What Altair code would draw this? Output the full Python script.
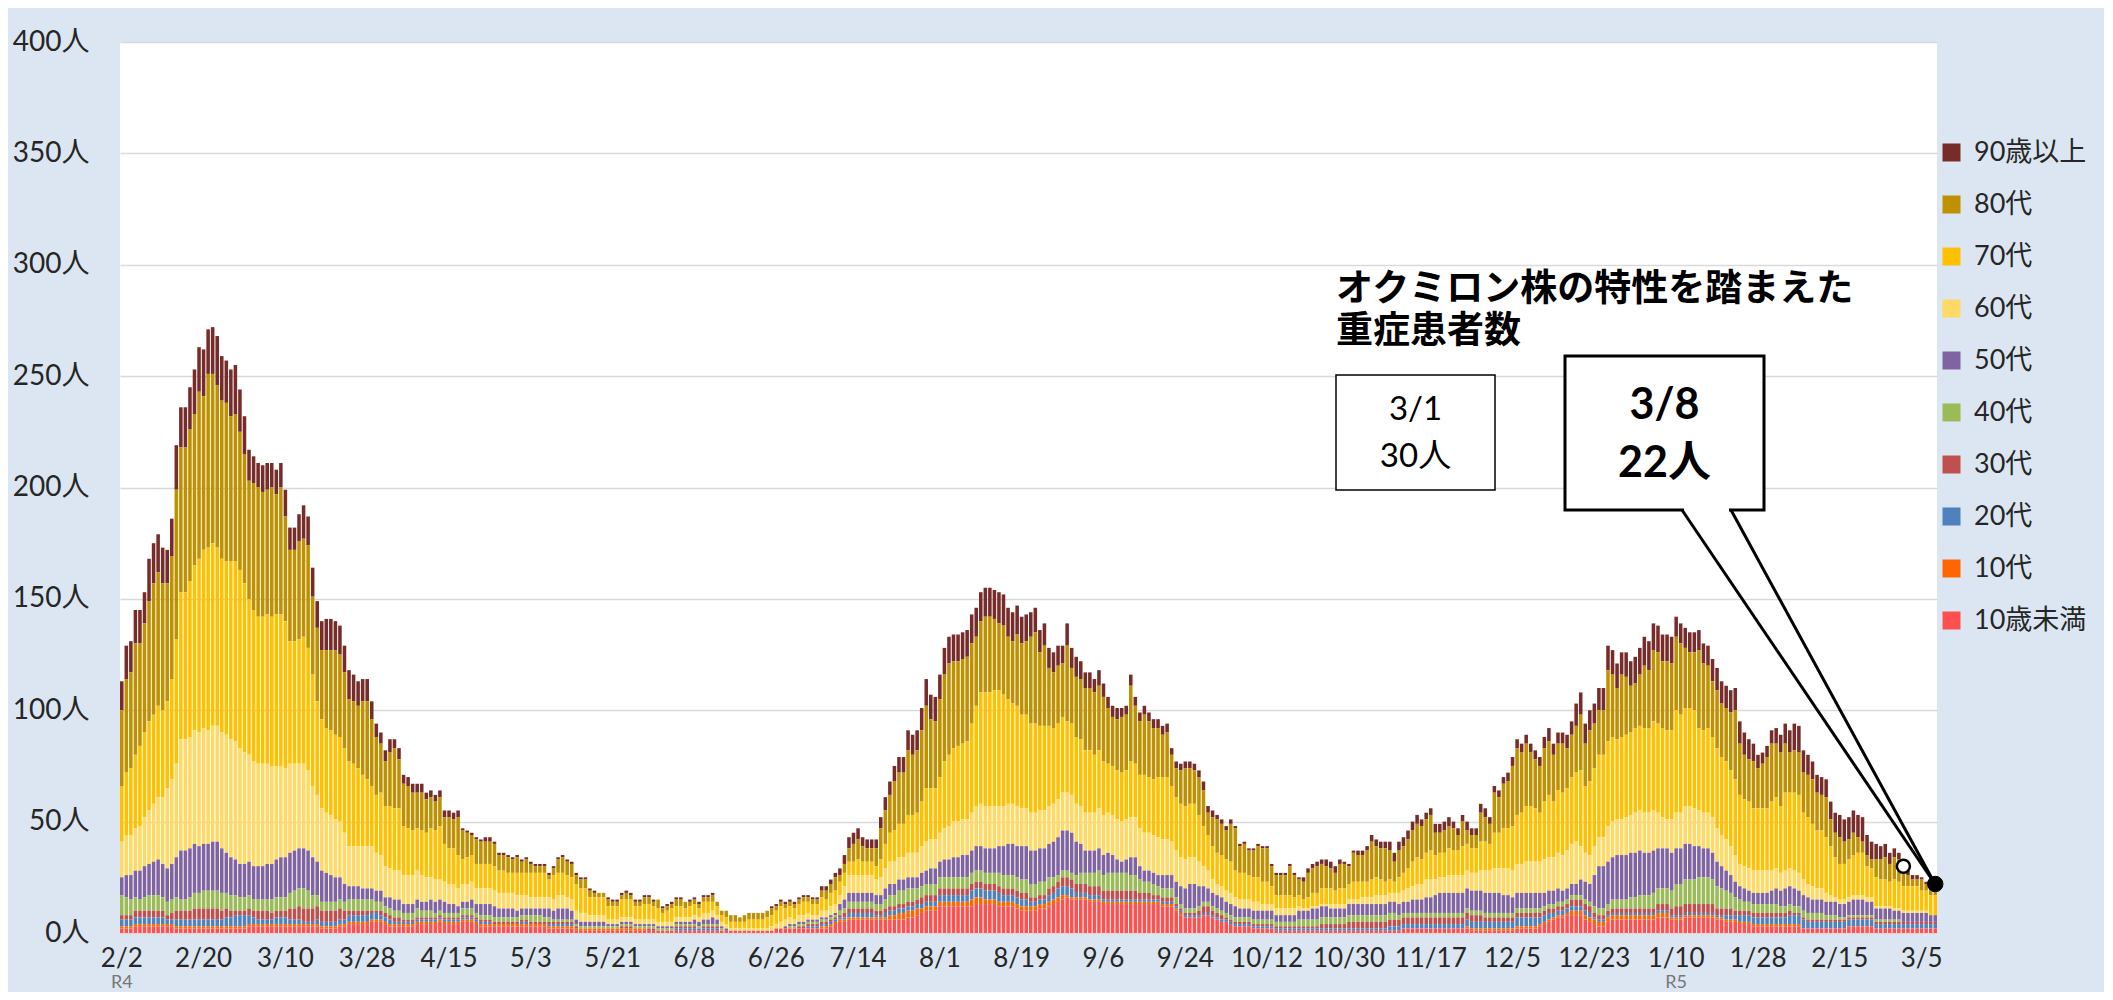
import json
import altair as alt
import pandas as pd

# ---------------- data ----------------
TICK_LABELS = ["2/2", "2/20", "3/10", "3/28", "4/15", "5/3", "5/21", "6/8", "6/26",
               "7/14", "8/1", "8/19", "9/6", "9/24", "10/12", "10/30", "11/17",
               "12/5", "12/23", "1/10", "1/28", "2/15", "3/5"]
ERA_LABELS = ["R4", "R5"]
ERA_IDX = [0, 342]

CATS = ["90歳以上", "80代", "70代", "60代", "50代", "40代", "30代", "20代", "10代", "10歳未満"]
COLORS = ["#772C2A", "#BF9000", "#FFC000", "#FFD966", "#8064A2",
          "#9BBB59", "#C0504D", "#4F81BD", "#FF6600", "#FF5050"]

# daily total (2022-02-02 .. 2023-03-08)
TOTAL = [
    113, 129, 131, 145, 145, 153, 168, 175, 179, 173,
    172, 186, 219, 236, 236, 245, 253, 263, 262, 271,
    272, 268, 259, 257, 253, 255, 244, 232, 217, 214,
    211, 210, 211, 211, 208, 211, 199, 182, 182, 188,
    192, 187, 164, 149, 140, 141, 141, 140, 138, 129,
    118, 116, 113, 114, 114, 104, 94, 90, 82, 87,
    87, 83, 71, 70, 67, 67, 67, 63, 64, 62,
    64, 55, 55, 54, 55, 47, 46, 45, 43, 42,
    43, 43, 41, 36, 36, 35, 34, 35, 33, 34,
    32, 31, 31, 31, 27, 30, 34, 35, 33, 32,
    27, 25, 25, 20, 19, 18, 18, 16, 15, 15,
    18, 19, 18, 15, 15, 17, 17, 15, 15, 12,
    13, 14, 16, 16, 14, 15, 16, 14, 17, 17,
    18, 14, 10, 10, 8, 8, 7, 8, 9, 9,
    9, 9, 10, 12, 13, 15, 14, 15, 14, 16,
    17, 17, 16, 16, 21, 21, 24, 27, 29, 35,
    43, 45, 47, 43, 42, 42, 42, 52, 61, 68,
    75, 79, 79, 91, 89, 91, 101, 114, 107, 106,
    116, 128, 133, 134, 134, 135, 136, 143, 146, 153,
    155, 155, 154, 153, 152, 146, 144, 147, 142, 143,
    144, 146, 136, 139, 128, 126, 129, 129, 139, 128,
    124, 122, 117, 117, 114, 118, 112, 106, 102, 101,
    101, 102, 116, 106, 99, 102, 99, 96, 96, 93,
    94, 83, 77, 76, 77, 77, 76, 73, 68, 57,
    55, 53, 51, 48, 51, 48, 40, 41, 38, 38,
    40, 39, 39, 31, 27, 27, 27, 31, 27, 25,
    25, 29, 31, 32, 33, 33, 32, 30, 33, 32,
    31, 37, 37, 37, 39, 44, 42, 41, 41, 41,
    36, 41, 43, 46, 50, 53, 51, 54, 56, 49,
    49, 50, 52, 50, 47, 53, 50, 47, 47, 58,
    56, 52, 66, 64, 70, 72, 79, 87, 85, 89,
    85, 82, 79, 88, 92, 85, 90, 90, 89, 95,
    103, 108, 94, 100, 103, 110, 110, 129, 127, 121,
    126, 126, 122, 124, 128, 133, 131, 139, 138, 134,
    134, 133, 142, 139, 137, 135, 135, 136, 130, 129,
    123, 119, 113, 111, 109, 110, 95, 90, 87, 85,
    80, 81, 84, 91, 92, 89, 94, 91, 94, 93,
    82, 80, 77, 71, 70, 69, 59, 54, 53, 51,
    52, 55, 53, 52, 44, 41, 40, 39, 40, 36,
    38, 36, 30, 28, 26, 26, 25, 23, 22, 22,
]

AGE90 = [
    13, 15, 14, 15, 15, 14, 19, 18, 17, 16,
    15, 17, 20, 18, 18, 19, 20, 20, 21, 20,
    21, 22, 20, 19, 21, 22, 19, 17, 14, 12,
    11, 12, 12, 11, 11, 11, 12, 10, 10, 12,
    15, 13, 13, 12, 13, 14, 14, 13, 13, 12,
    13, 12, 11, 10, 10, 8, 6, 5, 5, 6,
    4, 5, 4, 4, 4, 4, 4, 3, 3, 3,
    3, 3, 3, 3, 3, 1, 1, 1, 1, 1,
    2, 2, 1, 1, 1, 1, 1, 1, 1, 1,
    1, 1, 1, 1, 1, 1, 1, 1, 1, 1,
    1, 1, 1, 1, 1, 0, 0, 1, 1, 1,
    1, 1, 1, 1, 1, 1, 1, 1, 0, 1,
    1, 1, 1, 1, 0, 1, 1, 1, 1, 1,
    1, 0, 0, 0, 0, 0, 0, 0, 0, 0,
    0, 0, 0, 1, 1, 1, 1, 1, 1, 1,
    1, 1, 1, 1, 2, 2, 2, 2, 3, 4,
    5, 5, 5, 4, 4, 4, 4, 5, 6, 6,
    7, 7, 7, 9, 9, 9, 10, 12, 11, 11,
    11, 12, 12, 12, 12, 12, 12, 13, 13, 13,
    13, 13, 13, 14, 14, 13, 13, 13, 12, 12,
    11, 11, 10, 10, 9, 9, 9, 8, 10, 9,
    9, 8, 7, 7, 6, 7, 6, 5, 5, 5,
    4, 4, 5, 4, 4, 4, 4, 4, 4, 4,
    4, 3, 3, 3, 3, 3, 3, 3, 4, 3,
    3, 2, 2, 2, 2, 1, 1, 1, 1, 1,
    1, 1, 1, 1, 1, 1, 1, 1, 1, 1,
    2, 2, 2, 2, 2, 3, 3, 3, 2, 1,
    1, 1, 2, 2, 2, 3, 3, 3, 3, 4,
    4, 4, 4, 4, 4, 4, 3, 3, 3, 4,
    4, 4, 4, 3, 3, 3, 4, 3, 3, 4,
    4, 3, 3, 3, 3, 4, 4, 4, 4, 4,
    4, 4, 4, 5, 6, 5, 5, 5, 6, 6,
    10, 10, 9, 9, 9, 10, 10, 11, 11, 11,
    10, 11, 11, 12, 12, 13, 13, 12, 12, 12,
    12, 12, 9, 9, 9, 9, 9, 9, 9, 9,
    10, 10, 10, 10, 10, 10, 10, 10, 9, 8,
    6, 5, 5, 6, 7, 8, 9, 10, 12, 12,
    10, 9, 8, 8, 8, 8, 8, 9, 10, 10,
    10, 10, 10, 11, 9, 8, 7, 6, 6, 5,
    4, 3, 2, 2, 2, 2, 1, 1, 0, 0,
]

AGE70 = [
    25, 28, 30, 33, 36, 38, 40, 40, 41, 39,
    39, 45, 56, 66, 66, 70, 74, 78, 80, 82,
    82, 80, 78, 78, 80, 81, 80, 76, 70, 68,
    66, 66, 67, 67, 68, 68, 66, 55, 55, 56,
    57, 55, 50, 42, 40, 38, 38, 38, 38, 38,
    38, 37, 35, 32, 30, 27, 26, 28, 27, 28,
    28, 28, 22, 21, 20, 19, 20, 20, 22, 22,
    24, 17, 16, 16, 15, 11, 12, 12, 11, 11,
    11, 11, 11, 10, 10, 9, 9, 10, 10, 10,
    11, 11, 11, 11, 8, 11, 10, 10, 10, 10,
    12, 11, 11, 8, 8, 8, 8, 6, 6, 6,
    8, 8, 8, 6, 6, 7, 7, 6, 6, 4,
    5, 6, 5, 5, 4, 5, 5, 4, 5, 5,
    4, 4, 3, 3, 3, 3, 3, 3, 4, 4,
    4, 4, 5, 5, 6, 7, 5, 5, 5, 5,
    6, 5, 5, 5, 6, 5, 6, 6, 6, 6,
    6, 6, 7, 6, 6, 6, 6, 8, 11, 13,
    14, 15, 15, 17, 17, 18, 20, 24, 23, 23,
    25, 30, 32, 33, 34, 34, 35, 40, 45, 50,
    51, 51, 52, 52, 50, 47, 45, 45, 42, 42,
    40, 40, 38, 38, 36, 34, 34, 34, 32, 32,
    30, 30, 28, 28, 26, 26, 24, 22, 22, 22,
    22, 22, 25, 24, 24, 26, 25, 25, 27, 28,
    28, 25, 24, 24, 24, 24, 24, 21, 18, 16,
    15, 14, 14, 14, 14, 12, 12, 12, 11, 11,
    11, 10, 10, 8, 6, 6, 6, 6, 5, 5,
    4, 5, 6, 6, 7, 7, 7, 6, 7, 7,
    7, 8, 8, 7, 7, 8, 8, 7, 6, 6,
    5, 7, 8, 9, 11, 12, 11, 12, 13, 11,
    11, 11, 12, 11, 11, 13, 12, 11, 11, 13,
    13, 12, 16, 16, 18, 18, 20, 22, 23, 25,
    25, 24, 22, 26, 28, 25, 28, 28, 28, 30,
    31, 34, 30, 33, 35, 37, 37, 38, 38, 36,
    37, 37, 37, 38, 38, 38, 38, 40, 40, 40,
    40, 40, 46, 44, 44, 44, 44, 37, 37, 38,
    36, 36, 35, 35, 34, 34, 31, 30, 30, 28,
    28, 28, 28, 31, 32, 30, 35, 34, 35, 35,
    30, 30, 28, 26, 26, 25, 22, 18, 16, 16,
    17, 18, 19, 19, 14, 13, 13, 12, 12, 11,
    13, 12, 11, 11, 11, 11, 9, 9, 9, 9,
]

AGE60 = [
    16, 18, 18, 19, 20, 22, 24, 26, 28, 30,
    36, 38, 42, 50, 50, 50, 51, 51, 52, 51,
    52, 52, 52, 53, 53, 53, 52, 50, 48, 47,
    46, 46, 45, 44, 42, 41, 40, 40, 39, 38,
    38, 36, 32, 30, 28, 27, 27, 26, 25, 23,
    18, 18, 18, 19, 19, 19, 17, 16, 14, 13,
    13, 13, 13, 13, 13, 13, 12, 11, 10, 10,
    9, 9, 9, 9, 8, 8, 8, 8, 7, 7,
    7, 7, 7, 7, 7, 7, 7, 7, 6, 6,
    5, 5, 5, 5, 5, 5, 6, 6, 5, 5,
    4, 4, 4, 3, 3, 3, 3, 2, 2, 2,
    2, 2, 2, 2, 2, 2, 2, 2, 2, 2,
    2, 2, 2, 2, 2, 2, 2, 2, 3, 3,
    3, 2, 2, 2, 1, 1, 1, 1, 1, 1,
    1, 1, 1, 2, 2, 3, 3, 3, 2, 3,
    3, 3, 2, 2, 3, 3, 4, 4, 4, 6,
    8, 8, 8, 8, 8, 8, 7, 8, 9, 10,
    10, 10, 10, 11, 11, 11, 12, 13, 13, 13,
    13, 14, 15, 16, 16, 16, 16, 17, 18, 19,
    19, 19, 19, 18, 18, 18, 18, 18, 17, 17,
    17, 17, 17, 17, 17, 17, 17, 17, 17, 17,
    17, 17, 17, 17, 17, 18, 18, 18, 18, 18,
    18, 18, 18, 18, 17, 17, 17, 17, 17, 16,
    16, 15, 14, 13, 13, 12, 12, 11, 9, 8,
    6, 5, 5, 5, 5, 4, 4, 4, 4, 4,
    4, 3, 3, 3, 3, 3, 3, 3, 3, 2,
    1, 1, 1, 1, 1, 1, 2, 2, 2, 2,
    2, 2, 2, 3, 3, 3, 4, 4, 4, 4,
    4, 5, 5, 6, 6, 7, 7, 8, 8, 7,
    7, 7, 8, 8, 8, 8, 8, 8, 8, 9,
    10, 10, 11, 11, 12, 12, 12, 13, 13, 14,
    14, 14, 14, 15, 15, 15, 16, 16, 17, 18,
    19, 15, 13, 13, 13, 13, 13, 16, 16, 16,
    16, 17, 17, 18, 18, 18, 18, 18, 16, 14,
    13, 15, 16, 16, 17, 17, 17, 16, 16, 16,
    16, 15, 14, 14, 13, 12, 10, 10, 10, 10,
    10, 10, 10, 9, 9, 8, 8, 8, 8, 8,
    7, 6, 6, 5, 5, 4, 3, 2, 2, 2,
    2, 2, 2, 2, 2, 2, 1, 1, 1, 1,
    1, 1, 1, 1, 1, 1, 1, 1, 0, 0,
]

AGE50 = [
    8, 10, 11, 12, 13, 14, 14, 15, 16, 15,
    15, 16, 18, 22, 22, 22, 22, 21, 21, 21,
    22, 22, 20, 18, 17, 16, 15, 15, 15, 15,
    15, 15, 16, 16, 17, 18, 18, 18, 18, 18,
    18, 18, 17, 15, 14, 13, 12, 11, 10, 8,
    6, 6, 6, 5, 5, 5, 5, 5, 4, 5,
    5, 5, 4, 4, 4, 4, 4, 4, 5, 5,
    5, 5, 4, 4, 3, 3, 3, 4, 4, 5,
    5, 5, 5, 4, 4, 4, 4, 3, 3, 3,
    3, 3, 3, 4, 4, 4, 5, 5, 5, 4,
    2, 2, 2, 2, 2, 2, 2, 1, 1, 1,
    1, 1, 1, 1, 1, 1, 1, 1, 1, 1,
    1, 1, 1, 1, 1, 1, 2, 2, 2, 2,
    3, 2, 1, 1, 0, 0, 0, 0, 0, 0,
    0, 0, 0, 0, 0, 0, 1, 1, 1, 1,
    1, 1, 1, 1, 1, 1, 1, 1, 3, 4,
    4, 4, 4, 4, 4, 4, 4, 4, 5, 5,
    5, 5, 5, 5, 5, 5, 6, 6, 7, 7,
    7, 8, 8, 9, 9, 10, 10, 10, 11, 11,
    11, 11, 11, 12, 13, 14, 14, 14, 15, 15,
    15, 15, 15, 15, 15, 16, 17, 18, 18, 18,
    15, 13, 10, 10, 10, 10, 9, 9, 8, 6,
    5, 6, 8, 8, 6, 5, 5, 5, 5, 6,
    6, 6, 7, 8, 9, 11, 11, 9, 7, 6,
    6, 6, 6, 5, 5, 5, 4, 4, 4, 4,
    4, 4, 4, 4, 3, 3, 3, 3, 3, 4,
    4, 4, 5, 5, 5, 5, 4, 4, 4, 4,
    5, 5, 5, 5, 5, 5, 5, 5, 5, 5,
    5, 5, 5, 5, 6, 6, 6, 7, 7, 8,
    9, 9, 9, 9, 9, 9, 9, 9, 9, 9,
    9, 9, 9, 9, 8, 8, 7, 7, 7, 7,
    7, 7, 7, 6, 6, 6, 6, 5, 5, 5,
    5, 7, 8, 8, 14, 19, 19, 19, 19, 20,
    20, 20, 20, 20, 20, 19, 19, 19, 18, 18,
    18, 17, 16, 16, 16, 16, 15, 14, 13, 13,
    12, 11, 10, 9, 8, 7, 6, 6, 5, 5,
    5, 5, 5, 6, 7, 7, 8, 8, 8, 7,
    7, 7, 6, 6, 6, 6, 6, 6, 6, 6,
    6, 7, 7, 7, 6, 6, 5, 5, 5, 5,
    4, 4, 4, 4, 4, 4, 4, 4, 3, 3,
]

AGE40 = [
    9, 8, 7, 6, 5, 6, 7, 7, 7, 6,
    6, 6, 6, 5, 5, 6, 7, 7, 8, 8,
    8, 8, 8, 7, 7, 7, 6, 6, 6, 5,
    5, 5, 5, 6, 6, 6, 6, 7, 8, 8,
    9, 8, 6, 5, 4, 4, 4, 4, 4, 4,
    5, 5, 5, 5, 5, 5, 4, 4, 3, 3,
    3, 3, 3, 3, 3, 4, 3, 3, 3, 2,
    2, 2, 2, 2, 2, 3, 3, 3, 2, 2,
    2, 2, 2, 2, 2, 2, 2, 2, 2, 2,
    3, 3, 3, 2, 2, 1, 1, 1, 1, 1,
    1, 1, 1, 1, 1, 1, 1, 1, 1, 1,
    1, 1, 1, 1, 1, 1, 1, 1, 1, 1,
    1, 1, 1, 1, 1, 1, 1, 1, 1, 1,
    1, 1, 1, 0, 0, 0, 0, 0, 0, 0,
    0, 0, 0, 0, 0, 0, 0, 1, 1, 1,
    1, 1, 1, 1, 1, 1, 1, 1, 2, 2,
    3, 3, 3, 3, 3, 3, 3, 3, 4, 5,
    5, 6, 6, 6, 6, 5, 5, 5, 5, 5,
    5, 5, 5, 5, 5, 5, 5, 5, 5, 5,
    5, 5, 5, 6, 6, 6, 6, 6, 6, 6,
    6, 6, 6, 6, 5, 4, 3, 3, 3, 3,
    4, 5, 5, 6, 6, 7, 7, 8, 8, 8,
    8, 8, 7, 7, 6, 5, 5, 5, 4, 4,
    4, 4, 3, 2, 2, 2, 2, 2, 2, 2,
    2, 2, 2, 2, 2, 2, 2, 2, 2, 2,
    2, 2, 2, 2, 2, 2, 2, 2, 2, 3,
    3, 3, 3, 3, 3, 3, 3, 3, 3, 3,
    3, 3, 3, 3, 3, 3, 3, 3, 3, 3,
    3, 2, 2, 2, 2, 2, 2, 2, 2, 2,
    2, 2, 2, 2, 2, 2, 2, 2, 2, 2,
    2, 2, 2, 2, 2, 2, 2, 2, 2, 2,
    2, 2, 2, 2, 2, 2, 2, 2, 2, 2,
    2, 2, 2, 2, 3, 3, 3, 3, 4, 4,
    4, 4, 5, 5, 6, 6, 6, 7, 7, 7,
    7, 8, 10, 10, 11, 11, 11, 12, 12, 12,
    11, 10, 9, 8, 7, 6, 5, 4, 4, 4,
    4, 4, 4, 4, 4, 3, 3, 3, 3, 3,
    3, 3, 3, 3, 3, 2, 2, 2, 1, 1,
    1, 1, 1, 1, 1, 1, 1, 1, 1, 1,
    1, 1, 0, 0, 0, 0, 0, 0, 0, 0,
]

AGE30 = [
    2, 2, 2, 3, 3, 3, 3, 3, 3, 3,
    2, 3, 4, 4, 4, 4, 5, 5, 5, 5,
    5, 5, 4, 4, 3, 2, 2, 2, 3, 3,
    4, 4, 4, 3, 3, 3, 3, 5, 5, 6,
    6, 6, 6, 6, 5, 5, 5, 5, 5, 4,
    2, 2, 2, 2, 2, 1, 1, 2, 2, 2,
    2, 2, 1, 1, 1, 1, 1, 1, 1, 1,
    1, 1, 1, 1, 1, 1, 1, 1, 1, 1,
    1, 1, 1, 1, 1, 1, 1, 1, 1, 1,
    1, 1, 1, 1, 1, 1, 1, 1, 1, 1,
    1, 0, 0, 0, 0, 0, 0, 0, 0, 0,
    1, 1, 1, 0, 0, 0, 1, 1, 0, 0,
    0, 0, 1, 1, 1, 1, 1, 0, 1, 1,
    1, 1, 0, 0, 0, 0, 0, 0, 0, 0,
    0, 0, 0, 0, 0, 0, 0, 0, 0, 1,
    1, 1, 1, 1, 1, 1, 1, 1, 1, 2,
    2, 2, 2, 2, 2, 2, 2, 2, 2, 2,
    2, 2, 2, 2, 2, 2, 3, 3, 3, 3,
    3, 3, 3, 3, 3, 3, 3, 3, 3, 3,
    3, 3, 3, 3, 3, 3, 3, 3, 3, 3,
    2, 2, 2, 2, 3, 3, 3, 4, 4, 4,
    4, 4, 4, 4, 4, 4, 4, 4, 4, 4,
    4, 4, 4, 4, 3, 3, 3, 2, 2, 2,
    2, 2, 1, 1, 1, 1, 1, 2, 3, 3,
    2, 2, 2, 1, 1, 1, 1, 1, 1, 1,
    1, 1, 1, 1, 1, 1, 1, 1, 1, 1,
    1, 1, 1, 1, 2, 2, 2, 2, 2, 2,
    3, 3, 3, 3, 3, 3, 3, 3, 3, 3,
    3, 3, 3, 3, 3, 3, 3, 3, 3, 3,
    3, 3, 3, 3, 3, 3, 3, 3, 3, 3,
    2, 2, 2, 2, 2, 2, 2, 2, 2, 2,
    2, 2, 2, 2, 2, 2, 2, 2, 2, 3,
    3, 3, 3, 3, 2, 2, 2, 2, 2, 2,
    2, 2, 2, 2, 2, 2, 2, 2, 3, 3,
    3, 3, 4, 4, 4, 4, 4, 4, 4, 4,
    4, 3, 3, 3, 3, 2, 2, 2, 2, 2,
    2, 2, 2, 2, 2, 2, 2, 2, 1, 1,
    1, 1, 1, 1, 1, 1, 1, 1, 1, 1,
    1, 1, 1, 1, 1, 1, 1, 1, 1, 1,
    1, 1, 1, 1, 1, 1, 1, 1, 1, 1,
]

AGE20 = [
    3, 3, 3, 3, 3, 3, 3, 3, 3, 3,
    2, 2, 3, 3, 3, 3, 3, 3, 3, 3,
    3, 3, 3, 4, 4, 5, 5, 5, 4, 3,
    2, 2, 2, 2, 3, 3, 3, 2, 2, 2,
    1, 1, 1, 2, 2, 2, 2, 2, 2, 2,
    3, 3, 3, 3, 3, 3, 3, 2, 2, 2,
    1, 1, 1, 1, 1, 1, 1, 1, 1, 1,
    1, 1, 1, 1, 1, 1, 1, 1, 1, 1,
    1, 1, 0, 0, 0, 0, 0, 0, 1, 1,
    0, 0, 0, 0, 1, 1, 1, 1, 1, 1,
    0, 0, 0, 0, 0, 0, 0, 0, 0, 0,
    0, 0, 0, 0, 0, 0, 0, 0, 0, 0,
    0, 0, 1, 1, 1, 1, 1, 1, 1, 1,
    1, 1, 0, 0, 0, 0, 0, 0, 0, 0,
    0, 0, 0, 0, 0, 0, 0, 0, 0, 0,
    0, 1, 1, 1, 1, 1, 1, 1, 1, 1,
    2, 2, 2, 2, 2, 2, 1, 1, 2, 2,
    2, 2, 2, 2, 2, 2, 2, 2, 2, 2,
    3, 3, 3, 3, 3, 3, 3, 4, 4, 4,
    4, 4, 4, 4, 3, 3, 3, 3, 3, 3,
    2, 2, 2, 2, 3, 3, 4, 4, 4, 4,
    2, 2, 2, 2, 2, 2, 1, 1, 1, 1,
    1, 1, 1, 1, 1, 1, 1, 1, 1, 1,
    1, 1, 1, 1, 1, 1, 1, 1, 1, 1,
    1, 1, 1, 1, 1, 1, 1, 1, 1, 1,
    1, 1, 1, 1, 1, 1, 1, 1, 1, 1,
    1, 1, 1, 1, 1, 1, 1, 1, 1, 1,
    1, 1, 1, 1, 1, 1, 1, 1, 1, 2,
    2, 2, 2, 2, 2, 2, 2, 2, 2, 2,
    2, 2, 2, 2, 2, 2, 3, 3, 3, 3,
    3, 3, 3, 3, 3, 3, 3, 4, 4, 4,
    4, 4, 3, 3, 3, 2, 2, 2, 2, 2,
    2, 2, 2, 2, 1, 1, 1, 1, 1, 1,
    1, 1, 1, 1, 1, 1, 1, 1, 1, 1,
    1, 1, 1, 1, 1, 1, 1, 1, 1, 1,
    1, 1, 1, 2, 2, 2, 3, 3, 3, 3,
    3, 3, 3, 3, 3, 3, 3, 4, 4, 4,
    4, 3, 3, 3, 3, 3, 3, 3, 3, 3,
    3, 3, 3, 3, 3, 3, 2, 2, 2, 2,
    2, 2, 2, 2, 2, 2, 2, 2, 2, 2,
]

AGE10 = [
    1, 1, 1, 1, 1, 1, 1, 1, 1, 1,
    1, 1, 1, 1, 1, 1, 1, 1, 1, 1,
    1, 1, 1, 1, 1, 1, 1, 1, 1, 1,
    1, 1, 1, 1, 1, 1, 1, 1, 1, 1,
    1, 1, 1, 1, 1, 1, 1, 1, 1, 1,
    1, 1, 1, 1, 1, 1, 1, 1, 1, 1,
    1, 1, 1, 1, 1, 1, 1, 1, 1, 1,
    1, 1, 1, 1, 1, 1, 1, 1, 1, 1,
    1, 1, 1, 1, 1, 1, 1, 1, 1, 1,
    1, 1, 1, 1, 1, 1, 1, 1, 1, 1,
    1, 1, 1, 1, 1, 1, 1, 1, 1, 1,
    1, 1, 1, 1, 1, 1, 0, 0, 0, 0,
    0, 0, 0, 0, 0, 0, 0, 0, 0, 0,
    0, 0, 0, 0, 0, 0, 0, 0, 0, 0,
    0, 0, 0, 0, 0, 0, 0, 0, 0, 0,
    0, 0, 0, 0, 1, 1, 1, 1, 1, 1,
    1, 1, 1, 1, 1, 1, 1, 1, 1, 2,
    2, 3, 3, 3, 3, 3, 2, 2, 2, 2,
    2, 2, 2, 2, 2, 2, 2, 3, 3, 3,
    2, 2, 2, 2, 2, 2, 2, 2, 2, 2,
    2, 2, 2, 2, 2, 2, 2, 2, 1, 1,
    1, 1, 1, 1, 1, 1, 1, 1, 1, 1,
    1, 1, 1, 1, 1, 1, 1, 1, 1, 1,
    1, 1, 1, 1, 0, 0, 0, 0, 0, 0,
    0, 0, 0, 0, 0, 0, 0, 0, 0, 0,
    0, 0, 0, 0, 0, 0, 0, 0, 0, 0,
    0, 0, 0, 0, 0, 0, 0, 0, 0, 0,
    0, 0, 0, 0, 0, 0, 0, 0, 0, 0,
    0, 0, 0, 0, 0, 0, 0, 0, 0, 0,
    0, 0, 0, 0, 0, 0, 1, 1, 1, 1,
    1, 1, 1, 1, 1, 1, 1, 1, 1, 1,
    1, 1, 1, 1, 1, 1, 1, 1, 1, 2,
    2, 2, 2, 2, 2, 2, 2, 2, 2, 2,
    2, 2, 2, 2, 2, 2, 2, 2, 2, 2,
    2, 1, 1, 1, 1, 1, 1, 1, 1, 1,
    1, 1, 1, 1, 1, 1, 1, 1, 1, 1,
    1, 1, 1, 1, 1, 1, 1, 1, 1, 1,
    0, 0, 0, 0, 0, 0, 0, 0, 0, 0,
    0, 0, 0, 0, 0, 0, 0, 0, 0, 0,
    0, 0, 0, 0, 0, 0, 0, 0, 0, 0,
]

UNDER10 = [
    2, 2, 2, 3, 3, 3, 3, 3, 3, 3,
    3, 3, 2, 2, 2, 2, 2, 2, 2, 2,
    2, 2, 2, 2, 2, 2, 2, 2, 3, 3,
    3, 3, 3, 3, 3, 3, 3, 3, 3, 3,
    3, 3, 3, 3, 2, 2, 2, 2, 3, 3,
    4, 4, 4, 4, 4, 5, 5, 5, 4, 3,
    3, 3, 3, 3, 3, 4, 4, 4, 4, 4,
    5, 4, 4, 4, 4, 5, 5, 5, 4, 3,
    3, 3, 3, 3, 3, 3, 3, 3, 3, 3,
    3, 3, 3, 3, 2, 2, 2, 2, 2, 2,
    1, 1, 1, 1, 1, 1, 1, 1, 1, 1,
    1, 1, 1, 1, 1, 1, 1, 1, 1, 1,
    1, 1, 1, 1, 1, 1, 1, 1, 1, 1,
    1, 1, 1, 1, 1, 1, 1, 1, 1, 1,
    1, 1, 1, 1, 2, 2, 2, 2, 2, 2,
    2, 2, 2, 2, 2, 2, 3, 4, 5, 5,
    6, 6, 6, 6, 6, 6, 6, 6, 6, 6,
    6, 6, 6, 7, 7, 8, 9, 10, 10, 10,
    12, 12, 12, 12, 12, 12, 12, 12, 13, 13,
    13, 13, 13, 12, 12, 12, 12, 11, 10, 10,
    10, 10, 11, 11, 12, 13, 14, 15, 16, 15,
    15, 15, 15, 14, 14, 14, 13, 13, 13, 13,
    13, 13, 13, 13, 13, 13, 13, 13, 13, 12,
    12, 12, 10, 8, 7, 7, 7, 7, 8, 8,
    7, 6, 5, 5, 4, 3, 3, 3, 3, 2,
    2, 2, 2, 2, 1, 1, 1, 1, 1, 1,
    1, 1, 1, 1, 1, 1, 1, 1, 1, 1,
    1, 1, 1, 1, 1, 1, 1, 1, 1, 1,
    1, 1, 2, 2, 2, 2, 2, 2, 2, 2,
    2, 2, 2, 2, 2, 2, 2, 1, 1, 1,
    1, 1, 1, 1, 1, 1, 1, 2, 2, 2,
    2, 2, 3, 4, 5, 6, 7, 7, 8, 8,
    8, 8, 6, 5, 4, 3, 3, 5, 6, 6,
    6, 6, 6, 6, 6, 6, 6, 6, 7, 7,
    7, 6, 6, 6, 7, 7, 7, 7, 7, 7,
    7, 6, 6, 5, 5, 5, 4, 4, 4, 3,
    3, 3, 3, 3, 3, 3, 3, 3, 3, 3,
    2, 2, 2, 2, 2, 2, 2, 2, 2, 2,
    3, 3, 3, 3, 3, 3, 2, 2, 2, 2,
    2, 2, 2, 2, 2, 2, 2, 2, 2, 2,
]

ANNOT_TITLE = ["オクミロン株の特性を踏まえた", "重症患者数"]
ANNOT_PREV = ["3/1", "30人"]
ANNOT_LAST = ["3/8", "22人"]
PREV_IDX = 392
LAST_IDX = 399

# ---------------- table ----------------
others = {"90歳以上": AGE90, "70代": AGE70, "60代": AGE60, "50代": AGE50,
          "40代": AGE40, "30代": AGE30, "20代": AGE20, "10代": AGE10, "10歳未満": UNDER10}
rows = []
for i, tot in enumerate(TOTAL):
    vals = {k: v[i] for k, v in others.items()}
    vals["80代"] = max(tot - sum(vals.values()), 0)
    for c in CATS:
        rows.append({"idx": i, "cat": c, "value": vals[c], "rank": 9 - CATS.index(c)})
df = pd.DataFrame(rows)

# ---------------- layout ----------------
W, H = 1817, 891
FONT = "Lato, 'Noto Sans CJK JP', sans-serif"
TXT = "#262626"

label_expr = json.dumps(TICK_LABELS) + "[floor(datum.value / 18)]"

x_enc = alt.X("idx:O",
              scale=alt.Scale(paddingInner=0.22, paddingOuter=0),
              axis=alt.Axis(values=list(range(0, 400, 18)), labelExpr=label_expr,
                            title=None, ticks=False, tickSize=0, domain=False, grid=False,
                            labelAngle=0, labelFontSize=26, labelFont=FONT,
                            labelColor=TXT, labelPadding=12, labelBaseline="top"))

bars = alt.Chart(df).mark_bar().encode(
    x=x_enc,
    y=alt.Y("value:Q", stack="zero",
            scale=alt.Scale(domain=[0, 400], nice=False),
            axis=alt.Axis(values=list(range(0, 401, 50)), labelExpr="datum.value + '人'",
                          title=None, ticks=False, domain=False, grid=True,
                          gridColor="#D9D9D9", gridWidth=1.5,
                          labelFontSize=28, labelFont=FONT, labelColor=TXT,
                          labelPadding=31)),
    color=alt.Color("cat:N",
                    scale=alt.Scale(domain=CATS, range=COLORS),
                    legend=alt.Legend(orient="none", legendX=1818, legendY=97,
                                      title=None, symbolType="square", symbolSize=324,
                                      symbolStrokeWidth=0, labelFontSize=27,
                                      labelFont=FONT, labelColor=TXT,
                                      rowPadding=24, labelOffset=9, padding=0)),
    order=alt.Order("rank:Q", sort="ascending"),
)

one = pd.DataFrame({"k": [1]})


def text_layer(txt, x, y, size, bold=False, align="center"):
    return alt.Chart(one).mark_text(
        align=align, baseline="middle", fontSize=size, font=FONT,
        fontWeight="bold" if bold else "normal", color="black"
    ).encode(x=alt.value(x), y=alt.value(y), text=alt.value(txt))


def rect_layer(x, x2, y, y2, sw):
    return alt.Chart(one).mark_rect(fill="white", stroke="black", strokeWidth=sw).encode(
        x=alt.value(x), x2=alt.value(x2), y=alt.value(y), y2=alt.value(y2))


def rule_layer(x, y, x2, y2, color, sw):
    return alt.Chart(one).mark_rule(stroke=color, strokeWidth=sw).encode(
        x=alt.value(x), y=alt.value(y), x2=alt.value(x2), y2=alt.value(y2))


era_df = pd.DataFrame({"idx": ERA_IDX, "lab": ERA_LABELS})
era = alt.Chart(era_df).mark_text(
    baseline="top", fontSize=18, font=FONT, color="#767676"
).encode(x="idx:O", y=alt.value(H + 41), text="lab:N")

prev_pt = alt.Chart(pd.DataFrame({"idx": [PREV_IDX], "value": [TOTAL[PREV_IDX]]})).mark_point(
    shape="circle", filled=True, fill="white", stroke="black", strokeWidth=2.5,
    size=170, opacity=1).encode(x="idx:O", y="value:Q")
last_pt = alt.Chart(pd.DataFrame({"idx": [LAST_IDX], "value": [TOTAL[LAST_IDX]]})).mark_point(
    shape="circle", filled=True, fill="black", stroke="black", strokeWidth=1,
    size=240, opacity=1).encode(x="idx:O", y="value:Q")

tip_x, tip_y = 1815, 842

layers = [
    bars,
    era,
    text_layer(ANNOT_TITLE[0], 1216, 248, 37, bold=True, align="left"),
    text_layer(ANNOT_TITLE[1], 1216, 290, 37, bold=True, align="left"),
    rect_layer(1216, 1375, 333, 448, 1.5),
    text_layer(ANNOT_PREV[0], 1295.5, 368, 33),
    text_layer(ANNOT_PREV[1], 1295.5, 415, 33),
    rect_layer(1445, 1644, 314, 468, 3),
    rule_layer(1564, 468, 1609, 468, "white", 5),
    rule_layer(1562, 468, tip_x, tip_y, "black", 3),
    rule_layer(1611, 468, tip_x, tip_y, "black", 3),
    text_layer(ANNOT_LAST[0], 1544.5, 364, 43, bold=True),
    text_layer(ANNOT_LAST[1], 1544.5, 422, 43, bold=True),
    prev_pt,
    last_pt,
]

chart = alt.layer(*layers).properties(
    width=W, height=H,
    autosize=alt.AutoSizeParams(type="none"),
    padding={"left": 112, "top": 34, "right": 167, "bottom": 59},
).configure(background="#DCE6F2", font=FONT).configure_view(fill="white", strokeWidth=0)

chart.save("out.html", embed_options={"renderer": "svg", "actions": False})
